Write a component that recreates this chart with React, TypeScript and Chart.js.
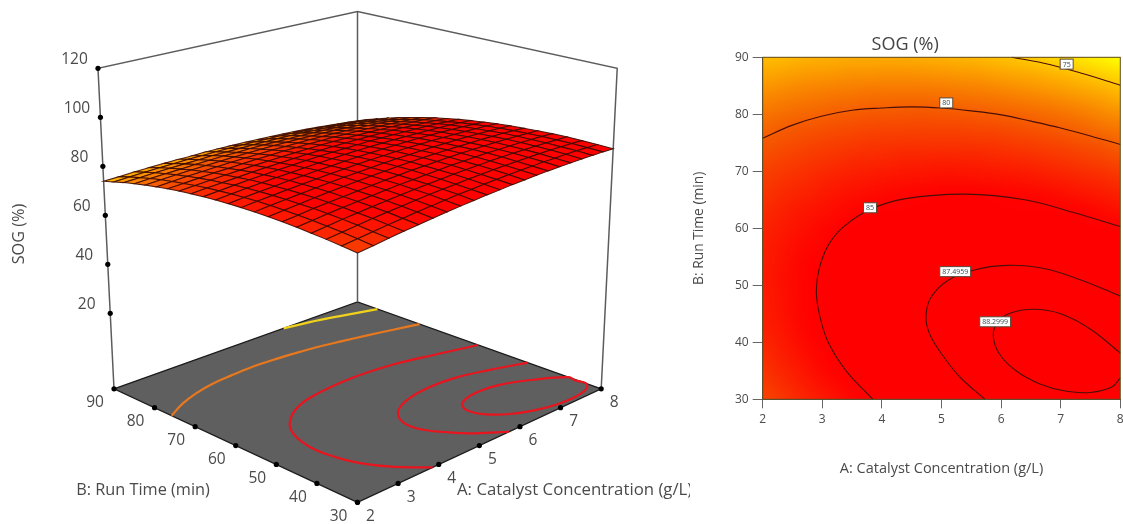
import React, { useEffect, useRef } from "react";
import { Chart, registerables } from "chart.js";

Chart.register(...registerables);

const catalystAxis = [2, 2.3, 2.6, 2.9, 3.2, 3.5, 3.8, 4.1, 4.4, 4.7, 5, 5.3, 5.6, 5.9, 6.2, 6.5, 6.8, 7.1, 7.4, 7.7, 8];
const runTimeAxis = [30, 33, 36, 39, 42, 45, 48, 51, 54, 57, 60, 63, 66, 69, 72, 75, 78, 81, 84, 87, 90];

const sogRows = [
  [81.3, 82.0, 82.8, 83.5, 84.1, 84.7, 85.3, 85.8, 86.2, 86.7, 87.0, 87.4, 87.6, 87.9, 88.1, 88.2, 88.3, 88.4, 88.4, 88.4, 88.3],
  [81.9, 82.6, 83.3, 84.0, 84.6, 85.2, 85.7, 86.2, 86.7, 87.0, 87.4, 87.7, 88.0, 88.2, 88.3, 88.5, 88.5, 88.6, 88.6, 88.5, 88.4],
  [82.4, 83.1, 83.8, 84.5, 85.1, 85.6, 86.1, 86.6, 87.0, 87.3, 87.7, 87.9, 88.2, 88.4, 88.5, 88.6, 88.7, 88.7, 88.6, 88.6, 88.4],
  [82.8, 83.5, 84.2, 84.8, 85.4, 85.9, 86.4, 86.8, 87.2, 87.5, 87.9, 88.1, 88.3, 88.5, 88.6, 88.7, 88.7, 88.7, 88.6, 88.5, 88.4],
  [83.2, 83.8, 84.5, 85.1, 85.6, 86.1, 86.6, 87.0, 87.3, 87.6, 87.9, 88.2, 88.3, 88.5, 88.6, 88.6, 88.6, 88.6, 88.5, 88.4, 88.2],
  [83.4, 84.0, 84.7, 85.2, 85.7, 86.2, 86.6, 87.0, 87.4, 87.7, 87.9, 88.1, 88.3, 88.4, 88.5, 88.5, 88.5, 88.4, 88.3, 88.1, 87.9],
  [83.5, 84.1, 84.7, 85.3, 85.8, 86.2, 86.6, 87.0, 87.3, 87.6, 87.8, 88.0, 88.1, 88.2, 88.2, 88.2, 88.2, 88.1, 88.0, 87.8, 87.5],
  [83.6, 84.2, 84.7, 85.2, 85.7, 86.1, 86.5, 86.8, 87.1, 87.4, 87.6, 87.7, 87.8, 87.9, 87.9, 87.9, 87.8, 87.7, 87.5, 87.3, 87.1],
  [83.5, 84.1, 84.6, 85.1, 85.5, 85.9, 86.3, 86.6, 86.9, 87.1, 87.2, 87.4, 87.5, 87.5, 87.5, 87.4, 87.3, 87.2, 87.0, 86.8, 86.5],
  [83.3, 83.9, 84.4, 84.8, 85.3, 85.6, 86.0, 86.2, 86.5, 86.7, 86.8, 86.9, 87.0, 87.0, 87.0, 86.9, 86.8, 86.6, 86.4, 86.1, 85.8],
  [83.1, 83.6, 84.1, 84.5, 84.9, 85.2, 85.5, 85.8, 86.0, 86.2, 86.3, 86.4, 86.4, 86.4, 86.3, 86.2, 86.1, 85.9, 85.7, 85.4, 85.1],
  [82.7, 83.2, 83.7, 84.1, 84.4, 84.8, 85.0, 85.3, 85.5, 85.6, 85.7, 85.7, 85.8, 85.7, 85.6, 85.5, 85.3, 85.1, 84.9, 84.5, 84.2],
  [82.2, 82.7, 83.1, 83.5, 83.9, 84.2, 84.4, 84.6, 84.8, 84.9, 85.0, 85.0, 85.0, 84.9, 84.8, 84.7, 84.5, 84.2, 83.9, 83.6, 83.2],
  [81.7, 82.1, 82.5, 82.9, 83.2, 83.5, 83.7, 83.9, 84.0, 84.1, 84.2, 84.2, 84.1, 84.0, 83.9, 83.7, 83.5, 83.2, 82.9, 82.6, 82.2],
  [81.0, 81.4, 81.8, 82.2, 82.4, 82.7, 82.9, 83.0, 83.2, 83.2, 83.3, 83.2, 83.2, 83.0, 82.9, 82.7, 82.4, 82.1, 81.8, 81.4, 81.0],
  [80.2, 80.6, 81.0, 81.3, 81.6, 81.8, 82.0, 82.1, 82.2, 82.2, 82.2, 82.2, 82.1, 82.0, 81.8, 81.5, 81.3, 81.0, 80.6, 80.2, 79.7],
  [79.4, 79.8, 80.1, 80.4, 80.6, 80.8, 81.0, 81.1, 81.1, 81.2, 81.1, 81.1, 80.9, 80.8, 80.6, 80.3, 80.0, 79.7, 79.3, 78.8, 78.4],
  [78.4, 78.8, 79.1, 79.3, 79.6, 79.7, 79.9, 79.9, 80.0, 80.0, 79.9, 79.8, 79.7, 79.5, 79.3, 79.0, 78.7, 78.3, 77.9, 77.4, 76.9],
  [77.4, 77.7, 78.0, 78.2, 78.4, 78.5, 78.7, 78.7, 78.7, 78.7, 78.6, 78.5, 78.3, 78.1, 77.8, 77.5, 77.2, 76.8, 76.4, 75.9, 75.3],
  [76.2, 76.5, 76.8, 77.0, 77.1, 77.3, 77.3, 77.4, 77.4, 77.3, 77.2, 77.0, 76.9, 76.6, 76.3, 76.0, 75.6, 75.2, 74.7, 74.2, 73.7],
  [75.0, 75.2, 75.5, 75.7, 75.8, 75.9, 75.9, 76.0, 75.9, 75.8, 75.7, 75.5, 75.3, 75.0, 74.7, 74.4, 74.0, 73.5, 73.0, 72.5, 71.9],
];

// contour lines as [catalyst, run time]
const contour75 = [[6.18, 90], [6.7, 89], [7.35, 87.2], [8, 85.1]];
const contour80 = [[2, 75.8], [2.5, 78.1], [3, 79.7], [3.5, 80.7], [4, 81.1], [4.5, 81.3], [5, 81.1], [5.5, 80.6], [6, 79.9], [6.5, 78.8], [7, 77.6], [7.5, 76.2], [8, 74.7]];
const contour85 = [[3.85, 30], [3.4, 35], [3.1, 40], [2.95, 45], [2.9, 49], [2.95, 53], [3.1, 57], [3.35, 60.2], [3.8, 63.3], [4.4, 65.2], [5.4, 66], [6.4, 65], [7.2, 62.8], [8, 60.3]];
const contour875 = [[5.73, 30], [5.3, 34], [5, 38], [4.8, 41.5], [4.74, 44.5], [4.82, 47.8], [5.1, 50.8], [5.55, 52.7], [6.1, 53.5], [6.7, 53], [7.35, 50.9], [8, 48.1]];
const contour883 = [[8, 38.1], [7.5, 42.3], [7, 45], [6.55, 45.8], [6.15, 45.1], [5.93, 43.4], [5.87, 41], [5.97, 38], [6.25, 35], [6.65, 32.7], [7.1, 31.4], [7.5, 31.2], [7.85, 32.1], [8, 33.7]];
// where the innermost contour rounds off against the floor's edge in the 3D view
const contour883Cap = [7.97, 36];

const contourTags = [
  { text: "75", a: 7.1, b: 88.8 },
  { text: "80", a: 5.08, b: 82 },
  { text: "85", a: 3.8, b: 63.6 },
  { text: "87.4959", a: 5.23, b: 52.4 },
  { text: "88.2999", a: 5.9, b: 43.6 },
];

const catalystTicks = [2, 3, 4, 5, 6, 7, 8];
const runTimeTicks = [30, 40, 50, 60, 70, 80, 90];
const sogTicks = [20, 40, 60, 80, 100, 120];

const titleA = "A: Catalyst Concentration (g/L)";
const titleB = "B: Run Time (min)";
const titleZ = "SOG (%)";

const FONT = '"Open Sans", sans-serif';
const TEXT = "#4a4a4a";

function sogColor(z: number) {
  const stops = [[72, 255, 255], [75, 255, 190], [80, 245, 92], [85, 255, 0]];
  if (z >= 85) return [255, 0, 0];
  let s = stops[0];
  let e = stops[1];
  for (let i = 0; i < stops.length - 1; i++) {
    if (z >= stops[i][0]) { s = stops[i]; e = stops[i + 1]; }
  }
  const t = Math.max(0, (z - s[0]) / (e[0] - s[0]));
  return [Math.round(s[1] + (e[1] - s[1]) * t), Math.round(s[2] + (e[2] - s[2]) * t), 0];
}

/* ---------- oblique view for the left chart ---------- */
const nF = [357.5, 502.3];
const nR = [601.2, 388.8];
const nL = [114, 388.8];
const nB = [357.5, 302];
const KEEP = 1.25;
const warp = (t: number) => (t * KEEP) / (1 - t + t * KEEP);

function view(u: number, v: number, lifted: number) {
  const bi = (f: number, r: number, l: number, b: number) =>
    f * (1 - u) * (1 - v) + r * u * (1 - v) + l * (1 - u) * v + b * u * v;
  const fx = bi(nF[0], nR[0], nL[0], nB[0]);
  const fy = bi(nF[1], nR[1], nL[1], nB[1]);
  const h = lifted * bi(2.74, 2.45, 2.45, 2.22);
  return { x: fx + (u - v) * 0.05 * h, y: fy - h };
}
const uOf = (a: number) => (a - 2) / 6;
const vOf = (b: number) => (b - 30) / 60;
const floorPoint = (a: number, b: number) => view(uOf(a), vOf(b), 0);
const axisPoint = (a: number, b: number, z: number) => view(uOf(a), vOf(b), z + 10.8);
const surfacePoint = (a: number, b: number, z: number) => view(warp(uOf(a)), warp(vOf(b)), z + 9.7);

const line = (data: any[], color: string, width: number, extra: any = {}) => ({
  type: "line", data, borderColor: color, borderWidth: width, pointRadius: 0, fill: false, tension: 0, clip: false, ...extra,
});

function surfaceDatasets() {
  const out: any[] = [];
  out.push(line(
    [floorPoint(2, 30), floorPoint(8, 30), floorPoint(8, 90), floorPoint(2, 90), floorPoint(2, 30)],
    "#1c1c1c", 1.3, { fill: "shape", backgroundColor: "#5f5f5f" },
  ));
  out.push(line([axisPoint(2, 90, -10.8), axisPoint(2, 90, 120), axisPoint(8, 90, 120), axisPoint(8, 30, 120), axisPoint(8, 30, -10.8)], "#5c5c5c", 1.5));
  out.push(line([axisPoint(8, 90, -10.8), axisPoint(8, 90, 120)], "#5c5c5c", 1.5));
  const floorLines: [number[][], string][] = [
    [contour75, "#f0d21c"], [contour80, "#e8781e"], [contour85, "#e8141e"], [contour875, "#e8141e"],
    [[contour883Cap, ...contour883, contour883Cap], "#e8141e"],
  ];
  for (const [pts, color] of floorLines) {
    out.push(line(pts.map(([a, b]) => floorPoint(a, b)), color, 2.2, { tension: 0.4 }));
  }
  const dots = [
    ...sogTicks.map((z) => axisPoint(2, 90, z)),
    ...catalystTicks.map((a) => floorPoint(a, 30)),
    ...runTimeTicks.map((b) => floorPoint(2, b)),
  ];
  out.push({ type: "scatter", data: dots, pointRadius: 2.6, backgroundColor: "#000", borderWidth: 0, clip: false });
  for (let j = runTimeAxis.length - 2; j >= 0; j--) {
    for (let i = catalystAxis.length - 2; i >= 0; i--) {
      const z = (sogRows[j][i] + sogRows[j][i + 1] + sogRows[j + 1][i] + sogRows[j + 1][i + 1]) / 4;
      const [r, g, b] = sogColor(z);
      out.push(line(
        [
          surfacePoint(catalystAxis[i], runTimeAxis[j], sogRows[j][i]),
          surfacePoint(catalystAxis[i + 1], runTimeAxis[j], sogRows[j][i + 1]),
          surfacePoint(catalystAxis[i + 1], runTimeAxis[j + 1], sogRows[j + 1][i + 1]),
          surfacePoint(catalystAxis[i], runTimeAxis[j + 1], sogRows[j + 1][i]),
          surfacePoint(catalystAxis[i], runTimeAxis[j], sogRows[j][i]),
        ],
        "rgba(60,10,0,0.9)", 1.05, { fill: "shape", backgroundColor: `rgb(${r},${g},${b})` },
      ));
    }
  }
  return out.reverse();
}

const surfaceText = {
  id: "surfaceText",
  afterDraw(chart: any) {
    const { ctx, scales } = chart;
    const px = (p: any, dx: number, dy: number) => [scales.x.getPixelForValue(p.x) + dx, scales.y.getPixelForValue(p.y) + dy];
    ctx.save();
    ctx.fillStyle = TEXT;
    ctx.textAlign = "center";
    ctx.textBaseline = "middle";
    ctx.font = `15.5px ${FONT}`;
    for (const z of sogTicks) {
      const [x, y] = px(axisPoint(2, 90, z), -23.5, -9);
      ctx.fillText(String(z), x, y);
    }
    for (const a of catalystTicks) {
      const [x, y] = px(floorPoint(a, 30), 13, 14);
      ctx.fillText(String(a), x, y);
    }
    for (const b of runTimeTicks) {
      const [x, y] = px(floorPoint(2, b), -19, 14);
      ctx.fillText(String(b), x, y);
    }
    ctx.font = `16.3px ${FONT}`;
    ctx.fillText(titleB, 143, 490);
    ctx.translate(19, 234);
    ctx.rotate(-Math.PI / 2);
    ctx.fillText(titleZ, 0, 0);
    ctx.rotate(Math.PI / 2);
    ctx.translate(-19, -234);
    ctx.textAlign = "left";
    ctx.font = `16.8px ${FONT}`;
    ctx.fillText(titleA, 457, 490);
    ctx.restore();
  },
};

/* ---------- flat contour map for the right chart ---------- */
const heatLayer = {
  id: "heatLayer",
  beforeDatasetsDraw(chart: any) {
    const { ctx, chartArea: area } = chart;
    const n = catalystAxis.length;
    const m = runTimeAxis.length;
    const off = document.createElement("canvas");
    off.width = n;
    off.height = m;
    const oc = off.getContext("2d")!;
    const img = oc.createImageData(n, m);
    for (let j = 0; j < m; j++) {
      for (let i = 0; i < n; i++) {
        const [r, g, b] = sogColor(sogRows[m - 1 - j][i]);
        const k = (j * n + i) * 4;
        img.data[k] = r; img.data[k + 1] = g; img.data[k + 2] = b; img.data[k + 3] = 255;
      }
    }
    oc.putImageData(img, 0, 0);
    ctx.save();
    ctx.imageSmoothingEnabled = true;
    ctx.imageSmoothingQuality = "high";
    ctx.drawImage(off, 0.5, 0.5, n - 1, m - 1, area.left, area.top, area.right - area.left, area.bottom - area.top);
    ctx.restore();
  },
  afterDatasetsDraw(chart: any) {
    const { ctx, chartArea: area, scales } = chart;
    ctx.save();
    ctx.strokeStyle = "#5e4a1e";
    ctx.lineWidth = 1;
    ctx.strokeRect(area.left, area.top, area.right - area.left, area.bottom - area.top);
    ctx.font = `7px ${FONT}`;
    ctx.textAlign = "center";
    ctx.textBaseline = "middle";
    for (const tag of contourTags) {
      const x = scales.x.getPixelForValue(tag.a);
      const y = scales.y.getPixelForValue(tag.b);
      const w = ctx.measureText(tag.text).width + 5;
      ctx.fillStyle = "#ffffff";
      ctx.strokeStyle = "#5a4a3a";
      ctx.fillRect(x - w / 2, y - 5, w, 10);
      ctx.strokeRect(x - w / 2, y - 5, w, 10);
      ctx.fillStyle = "#3a4a50";
      ctx.fillText(tag.text, x, y + 0.5);
    }
    ctx.restore();
  },
};

function mapDatasets() {
  return [contour75, contour80, contour85, contour875, contour883].map((pts) =>
    line(pts.map(([a, b]) => ({ x: a, y: b })), "#4a0f08", 1.1, { tension: 0.4 }),
  );
}

export default function App() {
  const leftRef = useRef<HTMLCanvasElement>(null);
  const rightRef = useRef<HTMLCanvasElement>(null);

  useEffect(() => {
    const hidden = { display: false };
    const left = new Chart(leftRef.current!, {
      type: "line",
      data: { datasets: surfaceDatasets() as any },
      plugins: [surfaceText],
      options: {
        responsive: false,
        animation: false,
        devicePixelRatio: 1,
        layout: { padding: 0, autoPadding: false },
        plugins: { legend: hidden, tooltip: { enabled: false } },
        scales: {
          x: { type: "linear", min: 0, max: 690, display: false },
          y: { type: "linear", min: 0, max: 524, reverse: true, display: false },
        },
      },
    } as any);

    const right = new Chart(rightRef.current!, {
      type: "line",
      data: { datasets: mapDatasets() as any },
      plugins: [heatLayer],
      options: {
        responsive: false,
        animation: false,
        devicePixelRatio: 1,
        layout: { padding: { top: 0, right: 2.7, bottom: 0, left: 0 }, autoPadding: false },
        plugins: {
          legend: hidden,
          tooltip: { enabled: false },
          title: {
            display: true,
            text: titleZ,
            color: "#444",
            font: { family: FONT, size: 18, weight: "normal", lineHeight: 1.2 },
            padding: { top: 34, bottom: 1.7 },
          },
        },
        scales: {
          x: {
            type: "linear",
            min: 2,
            max: 8,
            afterFit: (s: any) => { s.height = 124.7; s.paddingLeft = 0; s.paddingRight = 0; },
            afterBuildTicks: (s: any) => { s.ticks = catalystTicks.map((value) => ({ value })); },
            grid: { drawOnChartArea: false, tickLength: 9, color: "#666" },
            border: { color: "#666" },
            ticks: { color: TEXT, padding: 4, maxRotation: 0, font: { family: FONT, size: 12 } },
            title: { display: true, text: titleA, color: TEXT, font: { family: FONT, size: 14.5 }, padding: { top: 0, bottom: 46 } },
          },
          y: {
            type: "linear",
            min: 30,
            max: 90,
            afterFit: (s: any) => { s.width = 72.7; s.paddingTop = 0; s.paddingBottom = 0; },
            afterBuildTicks: (s: any) => { s.ticks = runTimeTicks.map((value) => ({ value })); },
            grid: { drawOnChartArea: false, tickLength: 10, color: "#666" },
            border: { color: "#666" },
            ticks: { color: TEXT, padding: 4, font: { family: FONT, size: 12 } },
            title: { display: true, text: titleB, color: TEXT, font: { family: FONT, size: 13.8 }, padding: { top: 1, bottom: 0 } },
          },
        },
      },
    } as any);

    return () => {
      left.destroy();
      right.destroy();
    };
  }, []);

  const soft = { position: "absolute" as const, top: 0, filter: "blur(0.45px)" };
  return (
    <div style={{ position: "absolute", left: 0, top: 0, width: 1123, height: 524, background: "#fff", overflow: "hidden" }}>
      <canvas ref={leftRef} width={690} height={524} style={{ ...soft, left: 0 }} />
      <canvas ref={rightRef} width={433} height={524} style={{ ...soft, left: 690 }} />
    </div>
  );
}
